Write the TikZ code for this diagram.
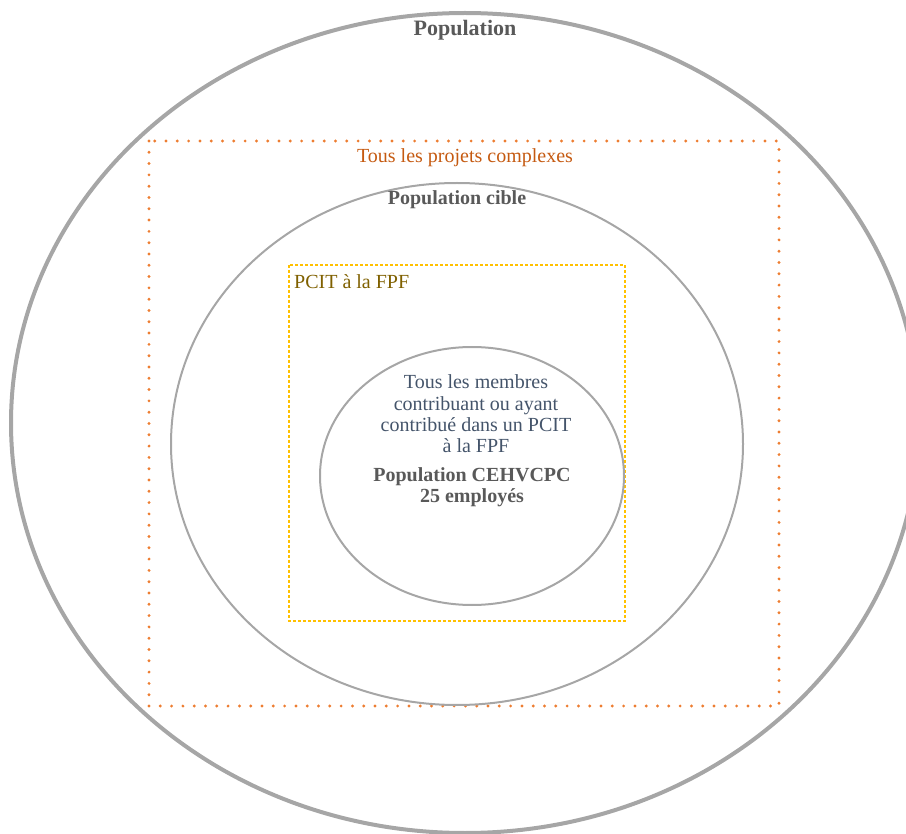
\documentclass[tikz,border=0pt]{standalone}
\usepackage{fontspec}
\setmainfont{Liberation Serif}
\begin{document}
\definecolor{ringgray}{HTML}{A6A6A6}
\definecolor{dotorange}{HTML}{ED7D31}
\definecolor{dashgold}{HTML}{FFC000}
\definecolor{labelgray}{HTML}{595959}
\definecolor{labelorange}{HTML}{C55A11}
\definecolor{labelgold}{HTML}{7F6000}
\definecolor{labelblue}{HTML}{44546A}
\begin{tikzpicture}[x=1pt,y=-1pt,
  ring/.style={draw=ringgray},
  txt/.style={font=\fontsize{20}{21.3}\selectfont, inner sep=0pt, align=center},
  boldtxt/.style={txt, font=\fontsize{20}{21.3}\selectfont\bfseries, text=labelgray}]
\useasboundingbox (0,0) rectangle (906,834);
\begin{scope}
\clip (0,0) rectangle (906,834);
% outer population
\draw[ring, line width=4pt] (465,423) ellipse [x radius=454, y radius=410];
\end{scope}
% all complex projects
\draw[dotorange, line width=3.2pt, line cap=round, dash pattern=on 0pt off 11.3pt]
  (149,141) rectangle (779,706);
% target population
\draw[ring, line width=2pt] (457,444) ellipse [x radius=286, y radius=261];
% PCIT at FPF
\draw[dashgold, line width=2pt, dash pattern=on 3pt off 2pt] (289,265) rectangle (625,621);
% CEHVCPC population
\draw[ring, line width=2pt] (472,476) ellipse [x radius=152, y radius=129];

\node[boldtxt, font=\fontsize{22}{24}\selectfont\bfseries] (pop) at (465,30) {Population};
\node[txt, text=labelorange] (proj) at (465,158) {Tous les projets complexes};
\node[boldtxt] (cible) at (457,200) {Population cible};
\node[txt, text=labelgold, anchor=west] (pcit) at (294,282) {PCIT à la FPF};
\node[txt, text=labelblue] (membres) at (476,414) {Tous les membres\\contribuant ou ayant\\contribué dans un PCIT\\à la FPF};
\node[boldtxt] (cehv) at (472,487.5) {Population CEHVCPC\\25 employés};
\end{tikzpicture}
\end{document}
